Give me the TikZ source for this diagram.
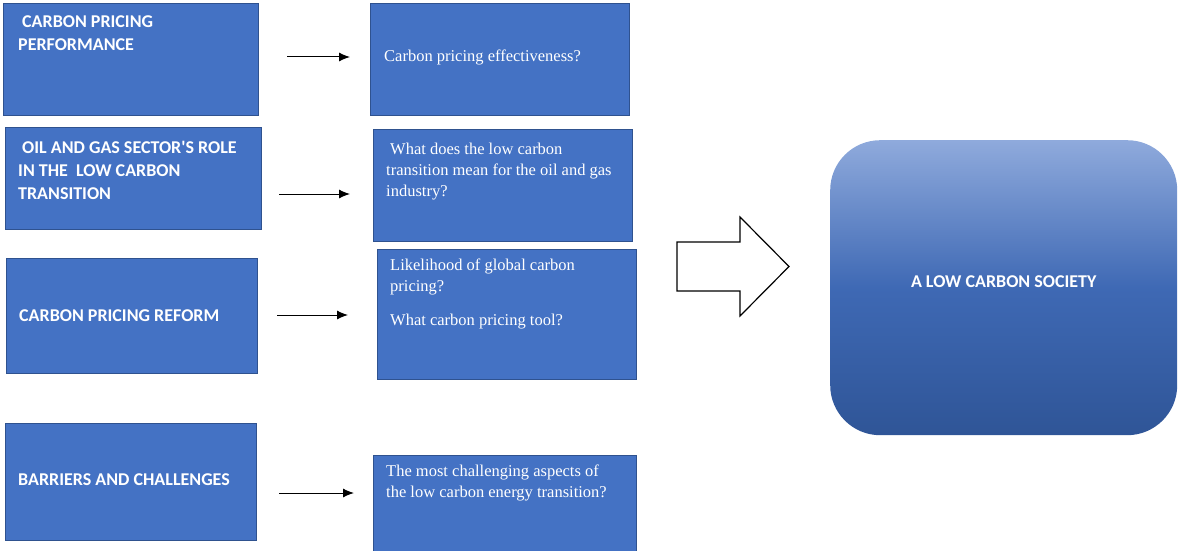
\documentclass[tikz,border=0pt]{standalone}
\usepackage{fontspec}
\usepackage{tikz}
\usetikzlibrary{
        arrows.meta,
        positioning
    }
\newfontfamily\hdfont{Carlito}
\newfontfamily\qfont{Liberation Serif}
\definecolor{boxblue}{HTML}{4472C4}
\definecolor{boxline}{HTML}{2F528F}
\definecolor{skytop}{HTML}{8FAADC}
\definecolor{skybot}{HTML}{2F5597}
\tikzset{>={Latex[length=11pt,width=9pt]},node distance=2cm}
\tikzset{
    topic/.style={draw=boxline,line width=1.2pt,fill=boxblue,anchor=north west,inner sep=0pt},
    headtxt/.style={text=white,align=left,inner sep=0pt,font=\hdfont\bfseries\fontsize{18}{23}\selectfont},
    qtxt/.style={text=white,align=left,inner sep=0pt,font=\qfont\fontsize{16.5}{21}\selectfont},
    goal/.style={rounded corners=50pt,top color=skytop,bottom color=skybot,middle color=boxblue!92!black,
                 minimum width=347pt,minimum height=295pt,anchor=north west,inner sep=0pt}
}

\begin{document}
\begin{tikzpicture}[x=1pt,y=-1pt]
                \useasboundingbox (0,0) rectangle (1178,551);
                % themes on the left
                \node[topic,minimum width=255pt,minimum height=112pt] (l1) at (3,3) {};
                \node[topic,minimum width=256pt,minimum height=102pt] (l2) at (5,127) {};
                \node[topic,minimum width=251pt,minimum height=115pt] (l3) at (6,258) {};
                \node[topic,minimum width=251pt,minimum height=117pt] (l4) at (5,423) {};
                \node[headtxt,below right=12pt and 15pt of l1.north west] {\hspace*{4pt}CARBON PRICING\\PERFORMANCE};
                \node[headtxt,below right=14pt and 13pt of l2.north west] {\hspace*{4pt}OIL AND GAS SECTOR'S ROLE\\IN THE\ \ LOW CARBON\\TRANSITION};
                \node[headtxt,right=13pt of l3.west] {CARBON PRICING REFORM};
                \node[headtxt,right=13pt of l4.west,yshift=2pt] {BARRIERS AND CHALLENGES};
                % questions
                \node[topic,minimum width=259pt,minimum height=112pt] (r1) at (370,3) {};
                \node[topic,minimum width=259pt,minimum height=112pt] (r2) at (373,129) {};
                \node[topic,minimum width=259pt,minimum height=130pt] (r3) at (377,249) {};
                \node[topic,minimum width=263pt,minimum height=100pt] (r4) at (373,455) {};
                \node[qtxt,right=14pt of r1.west,yshift=2pt] {Carbon pricing effectiveness?};
                \node[qtxt,below right=14pt and 13pt of r2.north west] {\hspace*{4pt}What does the low carbon\\transition mean for the oil and gas\\industry?};
                \node[qtxt,below right=10pt and 13pt of r3.north west] {Likelihood of global carbon\\pricing?\\[13pt]What carbon pricing tool?};
                \node[qtxt,below right=10pt and 13pt of r4.north west] {The most challenging aspects of\\the low carbon energy transition?};
                % small arrows
                \coordinate (a1) at (287,57);  \coordinate (b1) at (350,57);
                \coordinate (a2) at (279,194); \coordinate (b2) at (350,194);
                \coordinate (a3) at (277,315); \coordinate (b3) at (348,315);
                \coordinate (a4) at (279,493); \coordinate (b4) at (354,493);
                \foreach \i in {1,...,4}
                    \draw[->,line width=1pt] (a\i) -- (b\i);
                % outcome
                \node[goal] (soc) at (830,140) {};
                \node[headtxt] (soctxt) at ([yshift=6pt]soc.center) {A LOW CARBON SOCIETY};
                \draw[line width=1.2pt,line join=miter,fill=white]
                    (677,242) -- (740,242) -- (740,217) -- (789,266.5) -- (740,316) -- (740,291) -- (677,291) -- cycle;
            \end{tikzpicture}
\end{document}
